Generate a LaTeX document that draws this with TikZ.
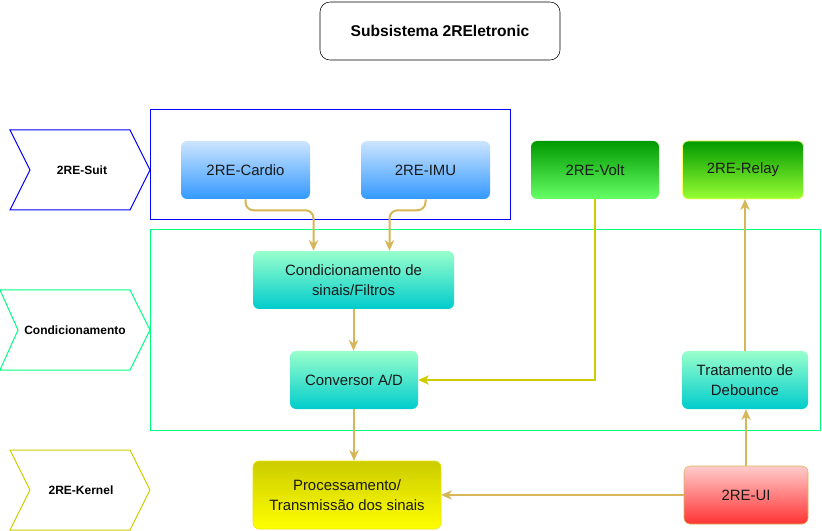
\documentclass[tikz,border=0pt]{standalone}
\usepackage{fontspec}
\setmainfont{Liberation Sans}
\usetikzlibrary{arrows.meta, positioning, calc}

\definecolor{flowgold}{HTML}{D6B656}
\definecolor{flowolive}{HTML}{CCCC00}
\definecolor{suitblue}{HTML}{0000FF}
\definecolor{condgreen}{HTML}{00FF80}
\definecolor{kernelyel}{HTML}{CCCC00}

\begin{document}
\begin{tikzpicture}[x=0.75pt, y=-0.75pt,
  sz/.style 2 args={minimum width=#1*0.75pt, minimum height=#2*0.75pt},
  box/.style={rounded corners=4.5pt, inner sep=0pt, align=center, text=black!90,
    font=\fontsize{11.2}{15.5}\selectfont},
  bluebox/.style={box, top color={rgb,255:red,204;green,229;blue,255}, bottom color={rgb,255:red,51;green,153;blue,255}},
  tealbox/.style={box, top color={rgb,255:red,153;green,255;blue,204}, bottom color={rgb,255:red,0;green,204;blue,204}},
  tag/.style={font=\fontsize{9}{11}\selectfont\bfseries},
  flow/.style={draw=flowgold, line width=1.5pt, rounded corners=6pt,
    -{Stealth[length=8pt, width=7pt, inset=2.5pt]}}]
  \useasboundingbox (0,0) rectangle (822,531);

  % Title
  \node[draw, rounded corners=7.5pt, sz={240}{58}, font=\fontsize{11.7}{14}\selectfont\bfseries]
    (title) at (440,31) {Subsistema 2REletronic};

  % Group frames
  \draw[suitblue, line width=0.75pt] (150,110) rectangle (510,220);
  \draw[condgreen, line width=0.75pt] (150,230) rectangle (820,430);

  % Layer tags
  \draw[suitblue, line width=0.75pt] (10,130) -- (130,130) -- (150,170) -- (130,210) -- (10,210) -- (30,170) -- cycle;
  \node[tag] (suit) at (82,170) {2RE-Suit};
  \draw[condgreen, line width=0.75pt] (0,290) -- (130,290) -- (150,330) -- (130,370) -- (0,370) -- (18,330) -- cycle;
  \node[tag] (cond) at (75,330) {Condicionamento};
  \draw[kernelyel, line width=0.75pt] (10,450) -- (130,450) -- (150,490) -- (130,530) -- (10,530) -- (30,490) -- cycle;
  \node[tag] (kernel) at (81,490) {2RE-Kernel};

  % Sensors and actuators
  \node[bluebox, sz={129}{58}] (cardio) at (245.5,170) {2RE-Cardio};
  \node[bluebox, sz={129}{58}] (imu) at (425.5,170) {2RE-IMU};
  \node[box, sz={128}{58}, top color={rgb,255:red,0;green,153;blue,0}, bottom color={rgb,255:red,102;green,255;blue,102}] (volt) at (595,170) {2RE-Volt};
  \node[box, sz={121}{58}, draw={rgb,255:red,255;green,255;blue,102}, top color={rgb,255:red,0;green,153;blue,0}, bottom color={rgb,255:red,153;green,255;blue,51}] (relay) at (743,170) {2RE-Relay};

  % Conditioning
  \node[tealbox, sz={201}{58}] (filtros) at (353.5,280) {Condicionamento de\\sinais/Filtros};
  \node[tealbox, sz={128}{58}] (conv) at (354,380) {Conversor A/D};
  \node[tealbox, sz={126}{58}] (debounce) at (745,380) {Tratamento de\\Debounce};

  % Kernel
  \node[box, sz={188}{68}, draw={rgb,255:red,230;green,230;blue,0}, top color={rgb,255:red,204;green,204;blue,0}, bottom color={rgb,255:red,255;green,255;blue,0}] (proc) at (347,495) {Processamento/\\Transmissão dos sinais};
  \node[box, sz={124}{58}, draw=flowgold, top color={rgb,255:red,255;green,204;blue,204}, bottom color={rgb,255:red,255;green,51;blue,51}] (ui) at (746,495) {2RE-UI};

  % Signal flow
  \draw[flow] (cardio.south) -- ++(0,11) -| ([xshift=-30pt]filtros.north);
  \draw[flow] (imu.south) -- ++(0,11) -| ([xshift=27pt]filtros.north);
  \draw[flow] (filtros.south) -- (filtros.south |- conv.north);
  \draw[flow, draw=flowolive, rounded corners=0pt] (volt.south) |- (conv.east);
  \draw[flow] (conv.south) -- (conv.south |- proc.north);
  \draw[flow] (ui.west) -- (proc.east);
  \draw[flow] (ui.north) -- (ui.north |- debounce.south);
  \draw[flow] (debounce.north) -- (debounce.north |- relay.south);
\end{tikzpicture}
\end{document}
